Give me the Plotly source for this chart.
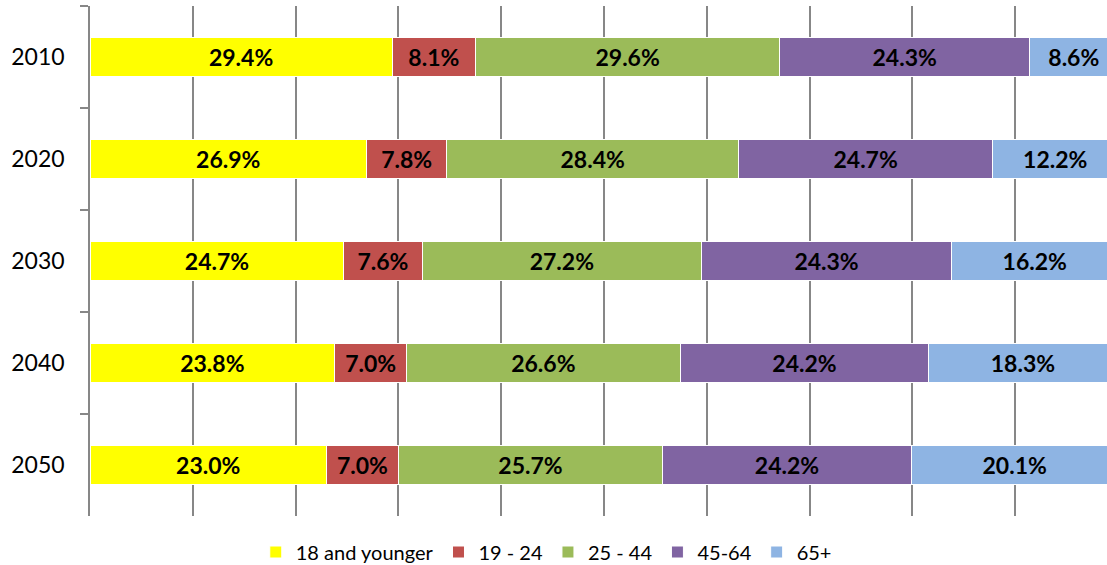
import plotly.graph_objects as go

years = ["2010", "2020", "2030", "2040", "2050"]
series_names = ["18 and younger", "19 - 24", "25 - 44", "45-64", "65+"]
s_18_younger = [29.4, 26.9, 24.7, 23.8, 23.0]
s_19_24 = [8.1, 7.8, 7.6, 7.0, 7.0]
s_25_44 = [29.6, 28.4, 27.2, 26.6, 25.7]
s_45_64 = [24.3, 24.7, 24.3, 24.2, 24.2]
s_65_plus = [8.6, 12.2, 16.2, 18.3, 20.1]
colors = ["#FFFF00", "#C0504D", "#9BBB59", "#8064A2", "#8EB4E3"]

FONT = "Lato"
fig = go.Figure()
for name, vals, col in zip(series_names,
                           [s_18_younger, s_19_24, s_25_44, s_45_64, s_65_plus],
                           colors):
    fig.add_trace(go.Bar(
        y=years, x=vals, name=name, orientation="h",
        marker=dict(color=col, line=dict(color="white", width=1)),
        texttemplate="%{x:.1f}%", textposition="inside",
        insidetextanchor="middle", textangle=0, constraintext="none",
        textfont=dict(family=FONT, size=23, color="black", weight="bold"),
        hoverinfo="skip",
    ))

grid = "#878787"
fig.update_layout(
    width=1107, height=565,
    barmode="stack", bargap=0.61,
    plot_bgcolor="white", paper_bgcolor="white",
    margin=dict(l=90, r=0, t=6, b=49, autoexpand=False),
    font=dict(family=FONT, color="black"),
    showlegend=True,
    legend=dict(orientation="h", traceorder="normal",
                x=0.163, xanchor="left", y=-0.0706, yanchor="middle",
                font=dict(family=FONT, size=20, color="black"),
                bgcolor="rgba(0,0,0,0)"),
    xaxis=dict(range=[0, 98.93], dtick=10, tick0=0, showgrid=True,
               gridcolor=grid, gridwidth=1.5, zeroline=False, automargin=False,
               showticklabels=False, showline=False, fixedrange=True),
    yaxis=dict(type="category", categoryorder="array", categoryarray=years,
               autorange="reversed", showline=True, linecolor=grid, linewidth=1.5,
               ticks="outside", tickson="boundaries", ticklen=8, tickcolor=grid,
               tickwidth=1.5, ticklabelstandoff=19, automargin=False,
               tickfont=dict(family=FONT, size=23, color="black"),
               showgrid=False, zeroline=False),
)

fig.write_html(
    "out.html",
    config={"displayModeBar": False},
    post_script="document.body.style.margin='0';document.body.style.overflow='hidden';",
)
